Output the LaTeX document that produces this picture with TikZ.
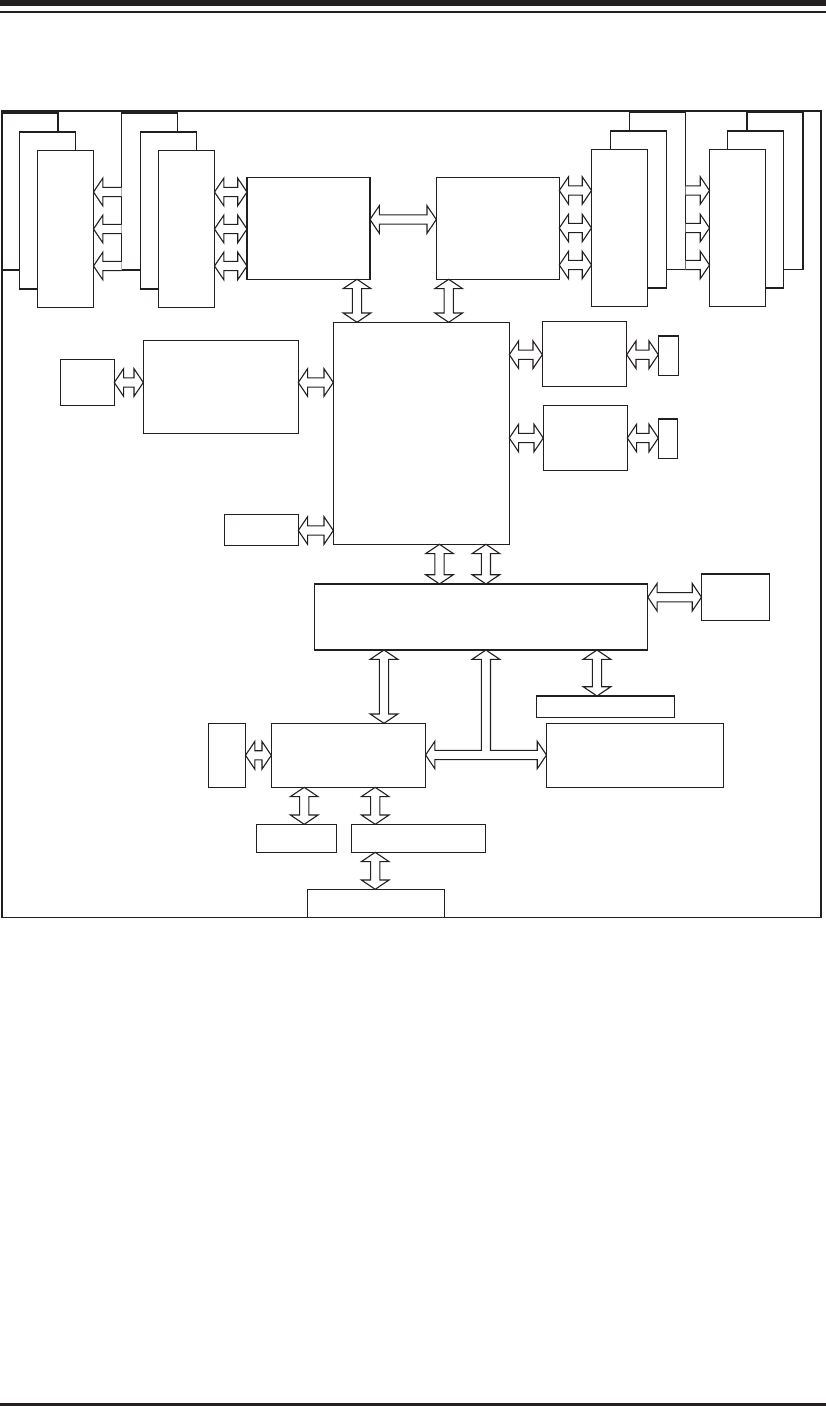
\documentclass[tikz,border=0pt]{standalone}
\usepackage{tikz}
\usetikzlibrary{calc}
\definecolor{ink}{HTML}{231F20}
% hollow bus arrows between named boxes
\newcommand{\hbus}[3]{% left box, right box, y
 \path (#1.east|-0,#3) coordinate (busA) (#2.west|-0,#3) coordinate (busB);
 \draw[bus] (busA) -- ++(9.3,-13.8) -- ++(0,9.2) -- ($(busB)+(-9.3,-4.6)$) -- ++(0,-9.2) -- (busB)
  -- ++(-9.3,13.8) -- ++(0,-9.2) -- ($(busA)+(9.3,4.6)$) -- ++(0,9.2) -- cycle;}
\newcommand{\vbus}[3]{% upper box, lower box, x
 \path (#3,0|-#1.south) coordinate (busA) (#3,0|-#2.north) coordinate (busB);
 \draw[bus] (busA) -- ++(13.8,9.3) -- ++(-9.2,0) -- ($(busB)+(4.6,-9.3)$) -- ++(9.2,0) -- (busB)
  -- ++(-13.8,-9.3) -- ++(9.2,0) -- ($(busA)+(-4.6,9.3)$) -- ++(-9.2,0) -- cycle;}
\newcommand{\lbus}[3]{% head on left box, tail on right box, y
 \path (#1.east|-0,#3) coordinate (busA) (#2.west|-0,#3) coordinate (busB);
 \draw[bus] ($(busB)+(0,-4.6)$) -- ($(busA)+(9.3,-4.6)$) -- ++(0,-9.2) -- (busA)
  -- ++(9.3,13.8) -- ++(0,-9.2) -- ($(busB)+(0,4.6)$);}
\newcommand{\rbus}[3]{% tail on left box, head on right box, y
 \path (#1.east|-0,#3) coordinate (busA) (#2.west|-0,#3) coordinate (busB);
 \draw[bus] ($(busA)+(0,-4.6)$) -- ($(busB)+(-9.3,-4.6)$) -- ++(0,-9.2) -- (busB)
  -- ++(-9.3,13.8) -- ++(0,-9.2) -- ($(busA)+(0,4.6)$);}

\begin{document}
\begin{tikzpicture}[x=1pt,y=-1pt,
 blk/.style={draw=ink,line width=1.2pt,fill=white,anchor=north west,inner sep=0pt,outer sep=0pt},
 card/.style={blk,minimum width=56,minimum height=157},
 bus/.style={draw=ink,line width=1.1pt,fill=white}]
 \useasboundingbox (0,0) rectangle (826,1406);
 \fill[ink] (0,0) rectangle (826,6);
 \fill[ink] (0,11) rectangle (826,12.8);
 \fill[ink] (0,1403) rectangle (826,1406);

 % memory modules
 \foreach \n/\x/\y in {A1/2/113,A2/19.5/132,A3/37.5/150.5,
   B1/121.5/113,B2/140.5/132,B3/158.5/150.5,
   C1/629.5/112.5,C2/610.5/131,C3/591.5/149.5,
   D1/747/112.5,D2/727.5/131,D3/709.5/149.5}
  \node[card] (dim\n) at (\x,\y) {};

 % processors and chipset
 \node[blk,minimum width=123,minimum height=102] (cpuA) at (247,177.3) {};
 \node[blk,minimum width=123,minimum height=102] (cpuB) at (436.3,177.3) {};
 \node[blk,minimum width=176,minimum height=222] (ioh) at (333.3,322.3) {};
 \node[blk,minimum width=155,minimum height=93] (bridgeL) at (143.3,340.3) {};
 \node[blk,minimum width=54,minimum height=46] (slotL) at (60.3,359.3) {};
 \node[blk,minimum width=74,minimum height=31] (slotB) at (224.3,514.3) {};
 \node[blk,minimum width=84.4,minimum height=65] (lanA) at (542.3,321.3) {};
 \node[blk,minimum width=20.4,minimum height=39.3] (rjA) at (658.3,336) {};
 \node[blk,minimum width=84,minimum height=65] (lanB) at (543.3,405.3) {};
 \node[blk,minimum width=19.4,minimum height=39.3] (rjB) at (658.3,419) {};
 \node[blk,minimum width=333.4,minimum height=66] (ich) at (314.4,584) {};
 \node[blk,minimum width=68,minimum height=46.3] (sata) at (701.5,574) {};
 \node[blk,minimum width=138,minimum height=21.3] (usb) at (536.3,696) {};
 \node[blk,minimum width=154.3,minimum height=64] (lpc) at (271.3,723.3) {};
 \node[blk,minimum width=37,minimum height=64] (kbm) at (208.5,723.3) {};
 \node[blk,minimum width=176.8,minimum height=64] (bmc) at (546.5,723.3) {};
 \node[blk,minimum width=80.4,minimum height=28] (fdd) at (256.3,824.3) {};
 \node[blk,minimum width=134,minimum height=28] (bios) at (351.3,824.3) {};
 \node[blk,minimum width=137,minimum height=28] (tpm) at (307.3,889.3) {};

 % buses
 \foreach \y in {192,229,266} {\lbus{dimA3}{dimB1}{\y} \hbus{dimB3}{cpuA}{\y}}
 \foreach \y in {190.5,228,265} {\hbus{cpuB}{dimC3}{\y} \rbus{dimC1}{dimD3}{\y}}
 \hbus{cpuA}{cpuB}{219.5}
 \vbus{cpuA}{ioh}{357}
 \vbus{cpuB}{ioh}{448.7}
 \hbus{slotL}{bridgeL}{382.5}
 \hbus{bridgeL}{ioh}{382.5}
 \hbus{slotB}{ioh}{530.5}
 \hbus{ioh}{lanA}{354.7}
 \hbus{lanA}{rjA}{354.7}
 \hbus{ioh}{lanB}{438}
 \hbus{lanB}{rjB}{438}
 \vbus{ioh}{ich}{439.5}
 \vbus{ioh}{ich}{485.9}
 \hbus{ich}{sata}{597.2}
 \vbus{ich}{lpc}{384}
 \vbus{ich}{usb}{597}
 \hbus{kbm}{lpc}{755.3}
 \vbus{lpc}{fdd}{304.2}
 \vbus{lpc}{bios}{375.2}
 \vbus{bios}{tpm}{375.2}
 % split bus from the south bridge
 \path (485.9,0|-ich.south) coordinate (tTop) (lpc.east|-0,755) coordinate (tLeft)
  (bmc.west|-0,755) coordinate (tRight);
 \draw[bus] (tTop) -- ++(13.8,9.3) -- ++(-9.2,0) |- ($(tRight)+(-9.3,-4.6)$) -- ++(0,-9.2) -- (tRight)
  -- ++(-9.3,13.8) -- ++(0,-9.2) -- ($(tLeft)+(9.3,4.6)$) -- ++(0,9.2) -- (tLeft)
  -- ++(9.3,-13.8) -- ++(0,9.2) -| ($(tTop)+(-4.6,9.3)$) -- ++(-9.2,0) -- cycle;

 \draw[ink,line width=1.8pt] (2,111) rectangle (821,917.5);
\end{tikzpicture}
\end{document}
